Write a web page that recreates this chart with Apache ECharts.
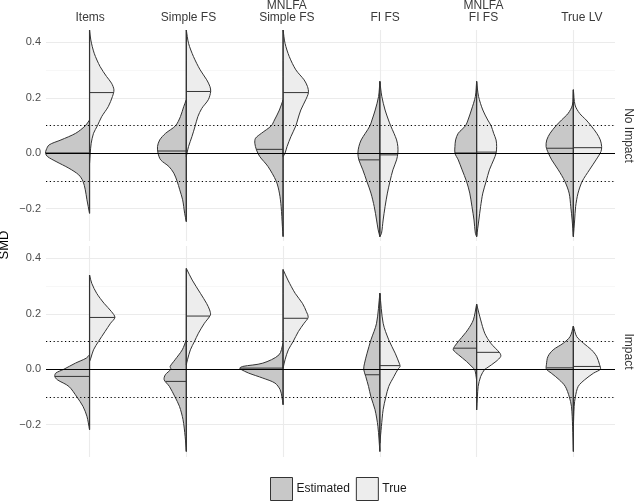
<!DOCTYPE html>
<html lang="en">
<head>
<meta charset="UTF-8"/>
<title>SMD split violins</title>
<script src="https://cdn.jsdelivr.net/npm/echarts@6/dist/echarts.min.js"></script>
<style>
  html, body { margin: 0; padding: 0; background: #fff; }
</style>
</head>
<body>
<div id="main" style="width:642px;height:504px;"></div>
<script type="text/javascript">
// categories and panels
var methods = ['Items', 'Simple FS', 'MNLFA\nSimple FS', 'FI FS', 'MNLFA\nFI FS', 'True LV'];
var panels = ['No Impact', 'Impact'];
var majorTicks = [-0.2, 0, 0.2, 0.4];
var minorTicks = [-0.1, 0.1, 0.3];
var cutoffs = [-0.1, 0.1];

// half-violin outlines: [SMD, half width in category units], top to bottom
var noImpactEst = [
  [[0.120,0],[0.099,0.044],[0.072,0.143],[0.048,0.295],[0.030,0.418],[0.012,0.448],[0,0.455],[-0.012,0.435],[-0.030,0.346],[-0.054,0.214],[-0.078,0.112],[-0.101,0.068],[-0.132,0.044],[-0.168,0.027],[-0.217,0]],
  [[0.193,0],[0.168,0.027],[0.132,0.061],[0.099,0.112],[0.072,0.214],[0.048,0.275],[0.024,0.298],[0,0.292],[-0.024,0.265],[-0.048,0.180],[-0.072,0.129],[-0.101,0.095],[-0.132,0.068],[-0.168,0.038],[-0.217,0.017],[-0.247,0]],
  [[0.193,0],[0.156,0.038],[0.120,0.089],[0.099,0.122],[0.072,0.224],[0.054,0.285],[0.036,0.292],[0.012,0.275],[-0.012,0.241],[-0.048,0.156],[-0.101,0.071],[-0.144,0.038],[-0.193,0.020],[-0.265,0.007],[-0.301,0]],
  [[0.259,0],[0.205,0.013],[0.156,0.048],[0.120,0.081],[0.099,0.102],[0.072,0.150],[0.048,0.193],[0.024,0.217],[0,0.227],[-0.024,0.217],[-0.060,0.176],[-0.101,0.135],[-0.144,0.092],[-0.193,0.058],[-0.241,0.034],[-0.277,0.017],[-0.301,0]],
  [[0.259,0],[0.205,0.013],[0.156,0.054],[0.120,0.089],[0.099,0.115],[0.072,0.190],[0.048,0.217],[0.024,0.224],[0,0.224],[-0.024,0.190],[-0.060,0.150],[-0.101,0.105],[-0.144,0.071],[-0.193,0.048],[-0.241,0.027],[-0.289,0.013],[-0.301,0]],
  [[0.229,0],[0.174,0.010],[0.144,0.054],[0.120,0.122],[0.099,0.180],[0.072,0.241],[0.048,0.275],[0.024,0.282],[0,0.258],[-0.024,0.224],[-0.060,0.156],[-0.101,0.089],[-0.144,0.044],[-0.193,0.027],[-0.241,0.013],[-0.301,0]]
];
var noImpactTrue = [
  [[0.445,0],[0.409,0.013],[0.361,0.048],[0.313,0.109],[0.277,0.176],[0.253,0.227],[0.229,0.252],[0.205,0.237],[0.168,0.193],[0.132,0.125],[0.099,0.081],[0.072,0.041],[0.036,0.017],[0,0.007],[-0.036,0]],
  [[0.445,0],[0.397,0.023],[0.349,0.074],[0.301,0.143],[0.265,0.211],[0.241,0.244],[0.223,0.252],[0.193,0.227],[0.162,0.160],[0.132,0.119],[0.099,0.092],[0.060,0.058],[0.024,0.023],[0,0.007],[-0.012,0]],
  [[0.445,0],[0.397,0.020],[0.349,0.064],[0.301,0.132],[0.265,0.217],[0.241,0.252],[0.219,0.262],[0.193,0.234],[0.156,0.183],[0.120,0.150],[0.099,0.132],[0.060,0.081],[0.024,0.041],[0,0.020],[-0.012,0]],
  [[0.259,0],[0.205,0.020],[0.156,0.054],[0.120,0.089],[0.099,0.112],[0.072,0.146],[0.048,0.173],[0.024,0.186],[0,0.186],[-0.024,0.173],[-0.060,0.135],[-0.101,0.105],[-0.144,0.078],[-0.193,0.054],[-0.241,0.034],[-0.289,0.017],[-0.301,0]],
  [[0.259,0],[0.205,0.020],[0.156,0.064],[0.120,0.115],[0.099,0.150],[0.072,0.176],[0.048,0.201],[0.024,0.207],[0,0.201],[-0.024,0.176],[-0.060,0.132],[-0.101,0.099],[-0.144,0.064],[-0.193,0.041],[-0.241,0.023],[-0.301,0]],
  [[0.229,0],[0.174,0.017],[0.144,0.064],[0.120,0.132],[0.099,0.183],[0.072,0.241],[0.048,0.278],[0.024,0.292],[0.006,0.285],[-0.024,0.234],[-0.060,0.166],[-0.101,0.092],[-0.144,0.048],[-0.193,0.023],[-0.241,0.013],[-0.301,0]]
];
var impactEst = [
  [[0.052,0],[0.040,0.034],[0.022,0.146],[0,0.265],[-0.014,0.349],[-0.026,0.359],[-0.038,0.333],[-0.062,0.214],[-0.101,0.129],[-0.134,0.068],[-0.170,0.027],[-0.218,0]],
  [[0.106,0],[0.070,0.042],[0.034,0.117],[0.010,0.167],[0,0.160],[-0.020,0.217],[-0.038,0.229],[-0.062,0.175],[-0.100,0.117],[-0.134,0.071],[-0.182,0.034],[-0.243,0.012],[-0.297,0]],
  [[0.094,0],[0.052,0.042],[0.022,0.209],[0.010,0.418],[0.004,0.448],[0,0.438],[-0.014,0.356],[-0.032,0.209],[-0.050,0.084],[-0.074,0.030],[-0.100,0.012],[-0.128,0]],
  [[0.274,0],[0.166,0.034],[0.106,0.092],[0.058,0.132],[0.022,0.158],[0,0.167],[-0.026,0.146],[-0.062,0.117],[-0.100,0.092],[-0.146,0.050],[-0.207,0.020],[-0.297,0]],
  [[0.235,0],[0.178,0.034],[0.142,0.092],[0.106,0.175],[0.082,0.229],[0.070,0.241],[0.052,0.187],[0.028,0.104],[0.004,0.034],[0,0.020],[-0.020,0.008],[-0.040,0]],
  [[0.156,0],[0.118,0.034],[0.094,0.104],[0.070,0.209],[0.046,0.263],[0.016,0.279],[0,0.279],[-0.014,0.229],[-0.038,0.146],[-0.062,0.084],[-0.100,0.042],[-0.134,0.020],[-0.207,0.008],[-0.297,0]]
];
var impactTrue = [
  [[0.340,0],[0.310,0.023],[0.274,0.074],[0.238,0.150],[0.208,0.227],[0.187,0.262],[0.166,0.217],[0.136,0.160],[0.100,0.092],[0.070,0.041],[0.040,0.013],[0.028,0]],
  [[0.364,0],[0.322,0.061],[0.274,0.146],[0.238,0.209],[0.214,0.241],[0.196,0.249],[0.166,0.187],[0.130,0.125],[0.100,0.084],[0.070,0.042],[0.034,0.012],[0.016,0]],
  [[0.360,0],[0.322,0.050],[0.274,0.125],[0.238,0.200],[0.208,0.241],[0.187,0.259],[0.166,0.217],[0.136,0.158],[0.100,0.104],[0.070,0.054],[0.034,0.020],[0.004,0]],
  [[0.274,0],[0.166,0.034],[0.106,0.092],[0.058,0.158],[0.022,0.200],[0.010,0.209],[0,0.187],[-0.026,0.146],[-0.062,0.092],[-0.100,0.062],[-0.146,0.034],[-0.207,0.016],[-0.267,0]],
  [[0.235,0],[0.178,0.042],[0.130,0.084],[0.094,0.146],[0.058,0.241],[0.046,0.249],[0.028,0.200],[0.004,0.104],[0,0.084],[-0.026,0.042],[-0.062,0.016],[-0.100,0.008],[-0.147,0]],
  [[0.156,0],[0.118,0.034],[0.094,0.104],[0.070,0.187],[0.046,0.241],[0.016,0.271],[0,0.279],[-0.014,0.209],[-0.038,0.117],[-0.062,0.050],[-0.100,0.020],[-0.134,0.008],[-0.207,0]]
];

// medians
var noImpactEstMed = [0.001, 0.008, 0.014, -0.024, 0.001, 0.018];
var noImpactTrueMed = [0.219, 0.223, 0.219, -0.006, 0.004, 0.020];
var impactEstMed = [-0.026, -0.044, 0.004, -0.020, 0.076, 0.005];
var impactTrueMed = [0.187, 0.192, 0.184, 0.013, 0.061, 0.010];

var EST_FILL = '#c8c8c8';
var TRUE_FILL = '#ededed';
var OUTLINE = '#333333';

var myChart = echarts.init(document.getElementById('main'));

function fmt(v) {
    return (v < 0 ? '\u2212' : '') + Math.abs(v).toFixed(1);
}

function halfViolin(dens, meds, side, fill) {
    return function (params, api) {
        var x0 = api.value(0);
        var k = api.value(1);
        var pts = dens[k];
        var poly = pts.map(function (p) { return api.coord([x0 + side * p[1], p[0]]); });
        // repeat the ends so the smoothed outline keeps a straight centre edge
        poly.unshift(poly[0].slice());
        poly.push(poly[poly.length - 1].slice());
        var med = meds[k];
        var w = 0;
        for (var j = 0; j < pts.length - 1; j++) {
            var a = pts[j], b = pts[j + 1];
            if ((a[0] - med) * (b[0] - med) <= 0) {
                var t = (med - a[0]) / ((b[0] - a[0]) || 1);
                w = a[1] + t * (b[1] - a[1]);
                break;
            }
        }
        var m0 = api.coord([x0, med]);
        var m1 = api.coord([x0 + side * w, med]);
        return {
            type: 'group',
            children: [
                {type: 'polygon', shape: {points: poly, smooth: 0.3}, style: {fill: fill, stroke: OUTLINE, lineWidth: 1}},
                {type: 'line', shape: {x1: m0[0], y1: m0[1], x2: m1[0], y2: m1[1]}, style: {stroke: OUTLINE, lineWidth: 1}}
            ]
        };
    };
}

// shared centre line of both halves, drawn on top
function centreLine(estDens, trueDens) {
    return function (params, api) {
        var x0 = api.value(0);
        var k = api.value(1);
        var e = estDens[k], t = trueDens[k];
        var hi = Math.max(e[0][0], t[0][0]);
        var lo = Math.min(e[e.length - 1][0], t[t.length - 1][0]);
        var a = api.coord([x0, hi]);
        var b = api.coord([x0, lo]);
        return {type: 'line', shape: {x1: a[0], y1: a[1], x2: b[0], y2: b[1]},
            style: {stroke: OUTLINE, lineWidth: 1.2}};
    };
}

var catData = methods.map(function (m, i) { return [i + 1, i]; });

var xRange = {min: 0.55, max: 6.43};
var yRange = {min: -0.317, max: 0.445};

var series = [];
var groups = [
    {est: noImpactEst, estMed: noImpactEstMed, tru: noImpactTrue, truMed: noImpactTrueMed},
    {est: impactEst, estMed: impactEstMed, tru: impactTrue, truMed: impactTrueMed}
];

groups.forEach(function (g, p) {
    var gridLines = [];
    majorTicks.forEach(function (v) {
        gridLines.push({yAxis: v, lineStyle: {color: '#ebebeb', width: 1.1},
            label: {show: true, position: 'start', formatter: fmt(v), color: '#4d4d4d', fontSize: 11, distance: 5}});
    });
    minorTicks.forEach(function (v) {
        gridLines.push({yAxis: v, lineStyle: {color: '#f2f2f2', width: 0.6}, label: {show: false}});
    });
    methods.forEach(function (m, i) {
        gridLines.push({xAxis: i + 1, lineStyle: {color: '#ebebeb', width: 1.1}, label: {show: false}});
    });
    series.push({
        type: 'line', xAxisIndex: p, yAxisIndex: p, data: [], z: 0, silent: true,
        markLine: {silent: true, z: 0, symbol: ['none', 'none'], animation: false,
            lineStyle: {type: 'solid'}, emphasis: {disabled: true}, data: gridLines}
    });
    series.push({
        name: 'Estimated', type: 'custom', xAxisIndex: p, yAxisIndex: p, z: 2,
        itemStyle: {color: EST_FILL, borderColor: OUTLINE, borderWidth: 1},
        renderItem: halfViolin(g.est, g.estMed, -1, EST_FILL), data: catData
    });
    series.push({
        name: 'True', type: 'custom', xAxisIndex: p, yAxisIndex: p, z: 2,
        itemStyle: {color: TRUE_FILL, borderColor: OUTLINE, borderWidth: 1},
        renderItem: halfViolin(g.tru, g.truMed, 1, TRUE_FILL), data: catData
    });
    series.push({
        type: 'custom', xAxisIndex: p, yAxisIndex: p, z: 3, silent: true,
        renderItem: centreLine(g.est, g.tru), data: catData
    });
    var refLines = cutoffs.map(function (v) {
        return {yAxis: v, lineStyle: {color: '#000', width: 1.2, type: [1.2, 2.6]}, label: {show: false}};
    });
    refLines.push({yAxis: 0, lineStyle: {color: '#000', width: 1.1, type: 'solid'}, label: {show: false}});
    series.push({
        type: 'line', xAxisIndex: p, yAxisIndex: p, data: [], z: 6, silent: true,
        markLine: {silent: true, z: 6, symbol: ['none', 'none'], animation: false,
            emphasis: {disabled: true}, data: refLines}
    });
});

function hiddenY(grid, extra) {
    var ax = {gridIndex: grid, type: 'value', min: yRange.min, max: yRange.max,
        axisLine: {show: false}, axisTick: {show: false}, axisLabel: {show: false}, splitLine: {show: false}};
    for (var k in extra) ax[k] = extra[k];
    return ax;
}

option = {
    animation: false,
    backgroundColor: '#fff',
    textStyle: {fontFamily: 'Liberation Sans, Arial, sans-serif'},
    grid: [
        {left: 46, top: 30, width: 578, height: 211},
        {left: 46, top: 246, width: 578, height: 211},
        {left: 41, top: 30, width: 590, height: 211}
    ],
    xAxis: [
        {gridIndex: 0, type: 'value', min: xRange.min, max: xRange.max, show: false},
        {gridIndex: 1, type: 'value', min: xRange.min, max: xRange.max, show: false},
        {gridIndex: 2, type: 'category', data: methods, position: 'top',
            axisLine: {show: false}, axisTick: {show: false}, splitLine: {show: false},
            axisLabel: {margin: 9, color: '#3a3a3a', fontSize: 12, lineHeight: 12, interval: 0}}
    ],
    yAxis: [
        hiddenY(0, {}),
        hiddenY(1, {}),
        hiddenY(0, {position: 'right', name: panels[0], nameLocation: 'middle', nameRotate: -90, nameGap: 7,
            nameTextStyle: {color: '#333', fontSize: 12}}),
        hiddenY(1, {position: 'right', name: panels[1], nameLocation: 'middle', nameRotate: -90, nameGap: 7,
            nameTextStyle: {color: '#333', fontSize: 12}}),
        {gridIndex: 2, type: 'value', show: false}
    ],
    legend: {
        left: 270, top: 477, padding: 0, itemWidth: 22, itemHeight: 23, itemGap: 6,
        selectedMode: false,
        textStyle: {fontSize: 12, color: '#1a1a1a', padding: [0, 0, 0, -1]},
        data: [
            {name: 'Estimated', icon: 'rect', itemStyle: {color: EST_FILL, borderColor: OUTLINE, borderWidth: 1}},
            {name: 'True', icon: 'rect', itemStyle: {color: TRUE_FILL, borderColor: OUTLINE, borderWidth: 1}}
        ]
    },
    graphic: [
        {type: 'text', x: 4, y: 245, rotation: Math.PI / 2,
            style: {text: 'SMD', fontSize: 13, fill: '#000', align: 'center', verticalAlign: 'middle',
                fontFamily: 'Liberation Sans, Arial, sans-serif'}}
    ],
    series: series
};

myChart.setOption(option);
</script>
</body>
</html>
